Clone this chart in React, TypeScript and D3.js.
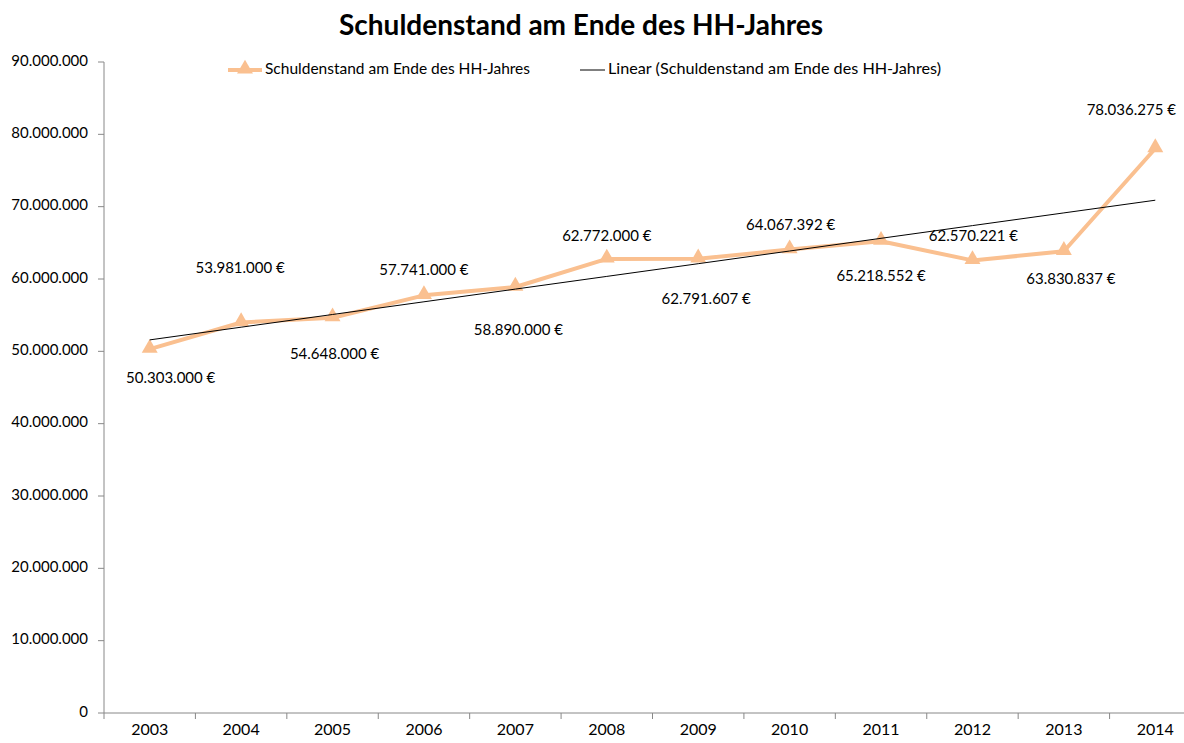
import React from 'react'
import * as d3 from 'd3'

const years = ['2003', '2004', '2005', '2006', '2007', '2008', '2009', '2010', '2011', '2012', '2013', '2014']
const debt = [50303000, 53981000, 54648000, 57741000, 58890000, 62772000, 62791607, 64067392, 65218552, 62570221, 63830837, 78036275]
const yTicks = [0, 10000000, 20000000, 30000000, 40000000, 50000000, 60000000, 70000000, 80000000, 90000000]
// label offsets relative to the point (they were moved by hand in the original)
const labelDx = [21, -1, 2, 0, 3, 0, 8, 1, 0, 1, 7, -24]
const labelDy = [30, -53, 37, -24, 44, -22, 41, -23, 36, -23, 29, -37]

const seriesName = 'Schuldenstand am Ende des HH-Jahres'
const trendName = 'Linear (Schuldenstand am Ende des HH-Jahres)'

const W = 1184
const H = 743
const left = 104
const right = 1201
const top = 62
const bottom = 713
const orange = '#FAC090'
const font = 'Lato, "Open Sans", sans-serif'

const fmt = d3.formatLocale({ decimal: ',', thousands: '.', grouping: [3], currency: ['', ' €'] })
const fmtNum = fmt.format(',d')

export default function App() {
  const x = d3.scaleBand().domain(years).range([left, right])
  const y = d3.scaleLinear().domain([0, 90000000]).range([bottom, top])
  const cx = (i: number) => (x(years[i]) as number) + x.bandwidth() / 2

  // linear trend (least squares over index)
  const n = debt.length
  const idx = d3.range(n)
  const mx = d3.mean(idx) as number
  const my = d3.mean(debt) as number
  const slope = d3.sum(idx, i => (i - mx) * (debt[i] - my)) / d3.sum(idx, i => (i - mx) * (i - mx))
  const icpt = my - slope * mx
  const trend = idx.map(i => icpt + slope * i)

  const line = d3.line<number>().x((_, i) => cx(i)).y(d => y(d))
  const tri = d3.symbol().type(d3.symbolTriangle).size(110)()

  return (
    <svg width={W} height={H} style={{ position: 'absolute', left: 0, top: 0, background: '#fff' }}>
      <text x={581} y={35} textAnchor="middle" fontFamily={font} fontWeight="bold" fontSize={28} fill="#000">
        {seriesName}
      </text>

      {/* legend */}
      <g fontFamily={font} fontSize={15} fill="#000">
        <line x1={228} x2={262} y1={70} y2={70} stroke={orange} strokeWidth={4} />
        <path d={tri as string} transform="translate(245,69)" fill={orange} />
        <text x={265} y={70} dominantBaseline="middle" textLength={265} lengthAdjust="spacingAndGlyphs">{seriesName}</text>
        <line x1={580} x2={605} y1={70} y2={70} stroke="#000" strokeWidth={1} />
        <text x={608} y={70} dominantBaseline="middle" textLength={333} lengthAdjust="spacingAndGlyphs">{trendName}</text>
      </g>

      {/* y axis */}
      <line x1={left} x2={left} y1={top} y2={bottom} stroke="#888" />
      {yTicks.map(t => (
        <g key={t}>
          <line x1={left - 6} x2={left} y1={y(t)} y2={y(t)} stroke="#888" />
          <text x={88} y={y(t)} textAnchor="end" dominantBaseline="middle" fontFamily={font} fontSize={15} fill="#000">
            {fmtNum(t)}
          </text>
        </g>
      ))}

      {/* x axis */}
      <line x1={left} x2={right} y1={bottom} y2={bottom} stroke="#888" />
      {years.map((yr, i) => (
        <g key={yr}>
          <line x1={x(yr) as number} x2={x(yr) as number} y1={bottom} y2={bottom + 6} stroke="#888" />
          <text x={cx(i)} y={735} textAnchor="middle" fontFamily={font} fontSize={16} fill="#000">{yr}</text>
        </g>
      ))}

      {/* series */}
      <path d={line(debt) as string} fill="none" stroke={orange} strokeWidth={4} strokeLinejoin="round" />
      {debt.map((v, i) => (
        <path key={i} d={tri as string} transform={`translate(${cx(i)},${y(v) - 1})`} fill={orange} />
      ))}

      {/* trend */}
      <path d={line(trend) as string} fill="none" stroke="#000" strokeWidth={1} />

      {/* labels */}
      {debt.map((v, i) => (
        <text key={i} x={cx(i) + labelDx[i]} y={y(v) + labelDy[i]} textAnchor="middle" dominantBaseline="middle"
          fontFamily={font} fontSize={15} fill="#000">
          {fmtNum(v) + ' €'}
        </text>
      ))}
    </svg>
  )
}
